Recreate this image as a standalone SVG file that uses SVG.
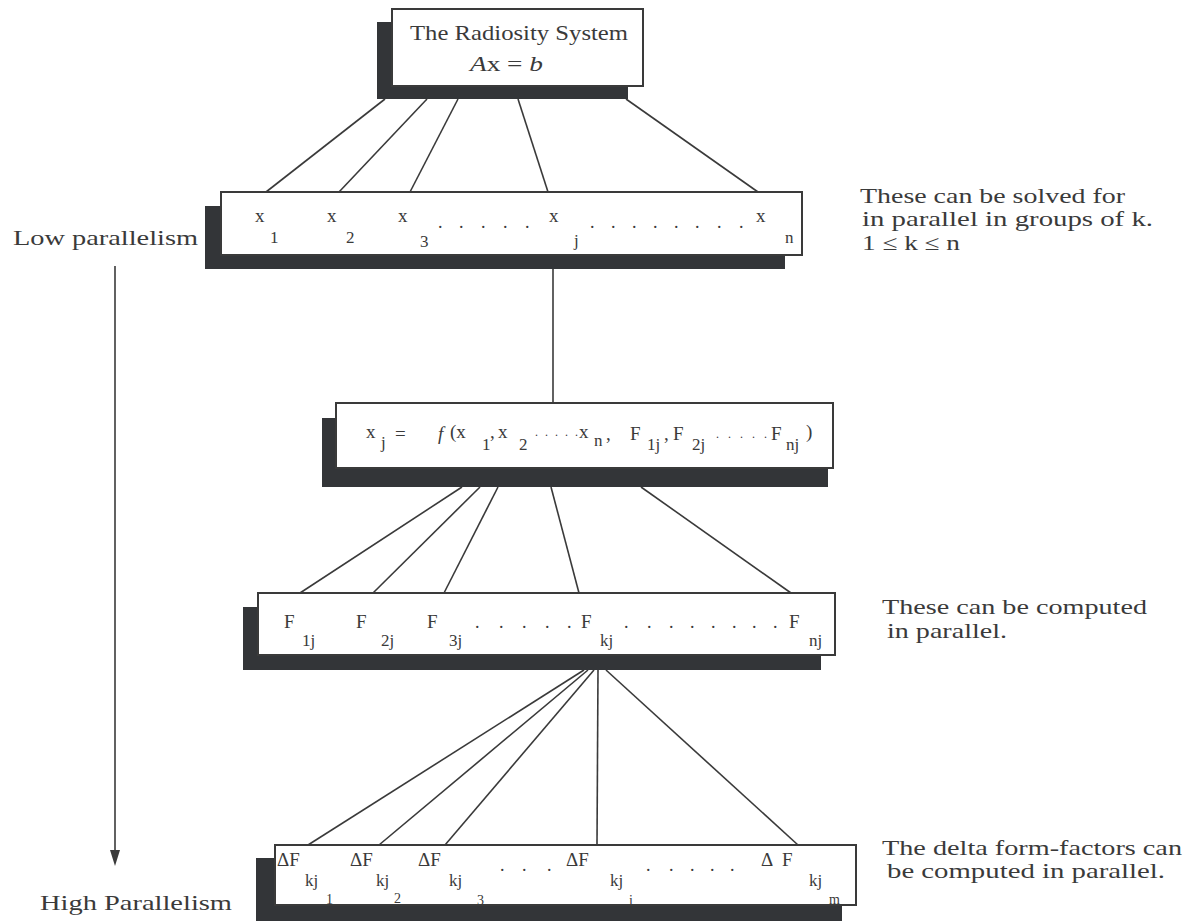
<svg xmlns="http://www.w3.org/2000/svg" width="1189" height="921" viewBox="0 0 1189 921">
<defs>
<style>
.shadow{fill:#333538}
.box{fill:#ffffff;stroke:#3a3a3a;stroke-width:2}
text{font-family:"Liberation Serif","Times New Roman",serif;fill:#3a3a3a}
.v{font-size:19px}
.s{font-size:17px}
.d{font-size:18px}
.lbl{font-size:21px}
#connectors line{stroke:#3a3a3a;stroke-width:1.6}
</style>
</defs>
<rect width="1189" height="921" fill="#ffffff"/>

<g id="connectors">
<line x1="385" y1="99" x2="266" y2="192"/>
<line x1="427" y1="99" x2="339" y2="192"/>
<line x1="458" y1="99" x2="410" y2="192"/>
<line x1="518" y1="99" x2="548" y2="192"/>
<line x1="626" y1="99" x2="758" y2="192"/>
<line x1="553" y1="269" x2="553" y2="403"/>
<line x1="462" y1="487" x2="300" y2="593"/>
<line x1="480" y1="487" x2="373" y2="593"/>
<line x1="498" y1="487" x2="444" y2="593"/>
<line x1="551" y1="487" x2="579" y2="593"/>
<line x1="641" y1="487" x2="791" y2="593"/>
<line x1="584" y1="670" x2="308" y2="845"/>
<line x1="588" y1="670" x2="379" y2="845"/>
<line x1="594" y1="670" x2="445" y2="845"/>
<line x1="598" y1="670" x2="597" y2="845"/>
<line x1="606" y1="670" x2="798" y2="845"/>
<line x1="115" y1="266" x2="115" y2="852"/>
<polygon points="110,850 120,850 115,866" fill="#3a3a3a"/>
</g>

<g id="node-system">
<rect class="shadow" x="377" y="22" width="251" height="77"/>
<rect class="box" x="392" y="9" width="251" height="77"/>
<text class="lbl" x="410" y="40" textLength="218" lengthAdjust="spacingAndGlyphs">The Radiosity System</text>
<text class="lbl" x="470" y="71" textLength="73" lengthAdjust="spacingAndGlyphs"><tspan font-style="italic">A</tspan>x = <tspan font-style="italic">b</tspan></text>
</g>

<g id="node-x">
<rect class="shadow" x="205" y="206" width="580" height="63"/>
<rect class="box" x="221" y="192" width="581" height="63"/>
<text class="v" x="255" y="222">x</text><text class="s" x="270" y="243">1</text>
<text class="v" x="327" y="222">x</text><text class="s" x="346" y="243">2</text>
<text class="v" x="398" y="222">x</text><text class="s" x="420" y="247">3</text>
<text class="d" x="438 459 481 503 525" y="228">.....</text>
<text class="v" x="549" y="222">x</text><text class="s" x="574" y="246">j</text>
<text class="d" x="590 611 632 653 674 695 717 739" y="228">........</text>
<text class="v" x="756" y="222">x</text><text class="s" x="785" y="243">n</text>
</g>

<g id="node-xj">
<rect class="shadow" x="322" y="418" width="506" height="69"/>
<rect class="box" x="336" y="403" width="497" height="65"/>
<text class="v" x="366" y="438">x</text><text class="s" x="381" y="448">j</text>
<text class="v" x="395" y="440">=</text>
<text class="v" x="438" y="440" font-style="italic" font-size="21">f</text>
<text class="v" x="450" y="438">(x</text>
<text class="s" x="482" y="450">1</text><text class="v" x="490" y="438">,</text>
<text class="v" x="498" y="438">x</text><text class="s" x="519" y="450">2</text>
<text font-size="12" x="535 545 555 565 575" y="436">.....</text>
<text class="v" x="579" y="438">x</text><text class="s" x="594" y="446">n</text><text class="v" x="606" y="440">,</text>
<text class="v" x="630" y="440">F</text><text class="s" x="647" y="450">1j</text><text class="v" x="664" y="440">,</text>
<text class="v" x="673" y="440">F</text><text class="s" x="692" y="450">2j</text>
<text font-size="12" x="716 728 740 752 764" y="438">.....</text>
<text class="v" x="771" y="440">F</text><text class="s" x="786" y="450">nj</text><text class="v" x="806" y="438">)</text>
</g>

<g id="node-F">
<rect class="shadow" x="243" y="607" width="578" height="63"/>
<rect class="box" x="258" y="593" width="577" height="62"/>
<text class="v" x="284" y="628">F</text><text class="s" x="302" y="646">1j</text>
<text class="v" x="356" y="628">F</text><text class="s" x="381" y="646">2j</text>
<text class="v" x="427" y="628">F</text><text class="s" x="449" y="646">3j</text>
<text class="d" x="475 499 522 545 567" y="628">.....</text>
<text class="v" x="581" y="628">F</text><text class="s" x="600" y="646">kj</text>
<text class="d" x="624 647 669 690 711 732 752 773" y="628">........</text>
<text class="v" x="789" y="628">F</text><text class="s" x="809" y="646">nj</text>
</g>

<g id="node-dF">
<rect class="shadow" x="256" y="858" width="586" height="70"/>
<rect class="box" x="275" y="845" width="581" height="60"/>
<text class="v" x="277" y="866">ΔF</text><text class="s" x="305" y="886">kj</text><text font-size="14" x="326" y="904">1</text>
<text class="v" x="350" y="866">ΔF</text><text class="s" x="376" y="886">kj</text><text font-size="14" x="394" y="903">2</text>
<text class="v" x="418" y="866">ΔF</text><text class="s" x="449" y="886">kj</text><text font-size="14" x="477" y="905">3</text>
<text class="d" x="500 522 547" y="871">...</text>
<text class="v" x="566" y="866">ΔF</text><text class="s" x="610" y="886">kj</text><text font-size="14" x="629" y="905">i</text>
<text class="d" x="646 669 690 710 730" y="871">.....</text>
<text class="v" x="761" y="866">Δ</text><text class="v" x="782" y="866">F</text><text class="s" x="809" y="886">kj</text><text font-size="14" x="829" y="904">m</text>
</g>

<g id="labels">
<text class="lbl" x="13" y="245" textLength="185" lengthAdjust="spacingAndGlyphs">Low parallelism</text>
<text class="lbl" x="40" y="910" textLength="192" lengthAdjust="spacingAndGlyphs">High Parallelism</text>
<text class="lbl" x="860" y="203" textLength="265" lengthAdjust="spacingAndGlyphs">These can be solved for</text>
<text class="lbl" x="862" y="226" textLength="291" lengthAdjust="spacingAndGlyphs">in parallel in groups of k.</text>
<text class="lbl" x="862" y="250" textLength="98" lengthAdjust="spacingAndGlyphs">1 ≤ k ≤ n</text>
<text class="lbl" x="882" y="614" textLength="265" lengthAdjust="spacingAndGlyphs">These can be computed</text>
<text class="lbl" x="887" y="638" textLength="120" lengthAdjust="spacingAndGlyphs">in parallel.</text>
<text class="lbl" x="882" y="855" textLength="300" lengthAdjust="spacingAndGlyphs">The delta form-factors can</text>
<text class="lbl" x="887" y="878" textLength="278" lengthAdjust="spacingAndGlyphs">be computed in parallel.</text>
</g>
</svg>
